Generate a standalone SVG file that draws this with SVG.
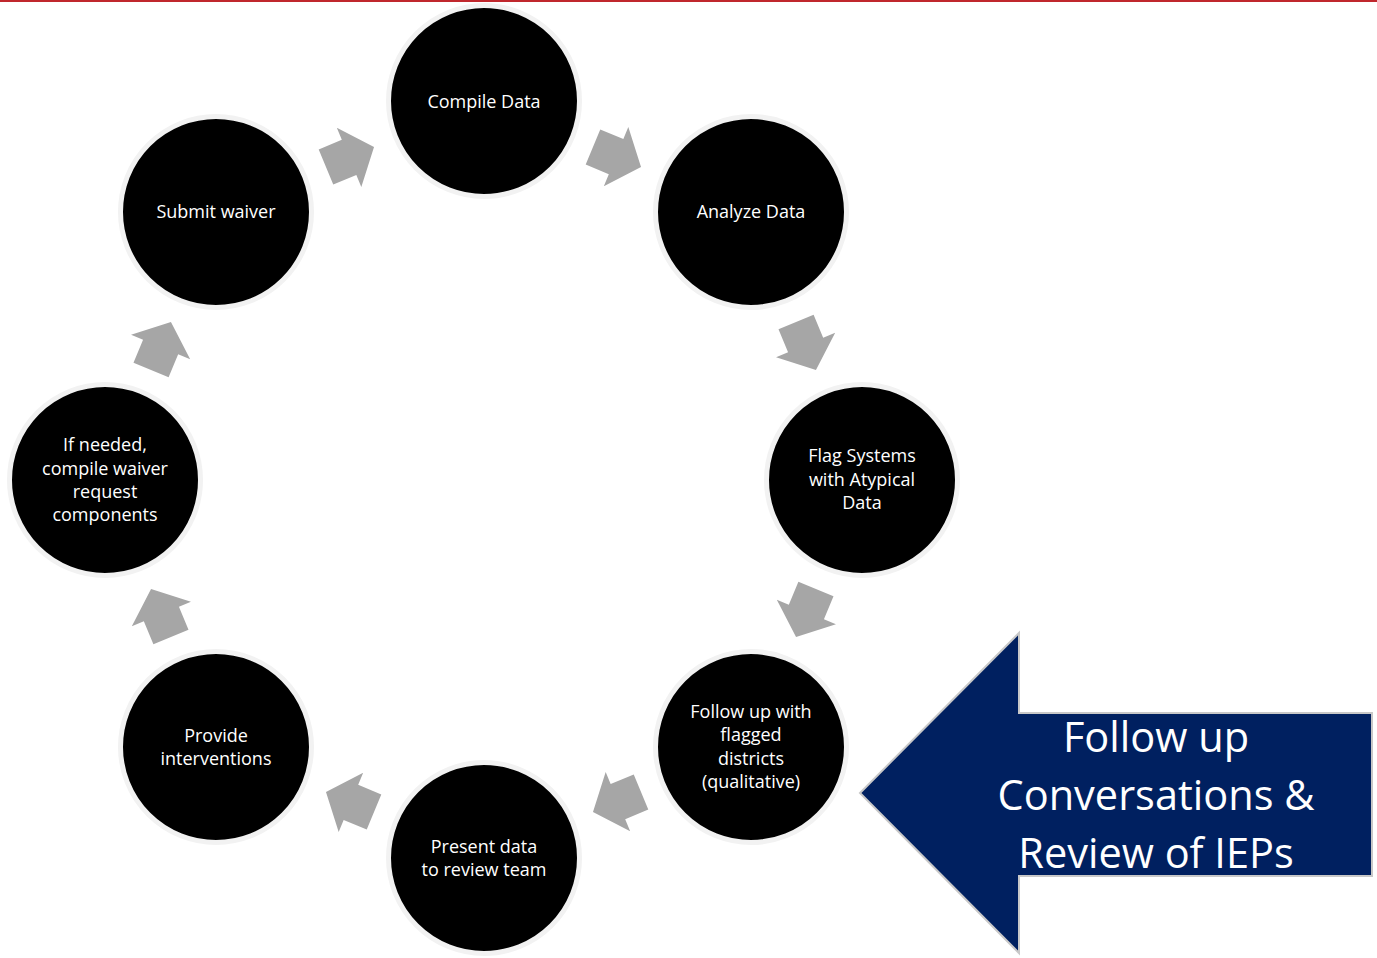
<svg xmlns="http://www.w3.org/2000/svg" width="1377" height="958" viewBox="0 0 1377 958">
<defs>
<style>
.node circle{fill:#000;stroke:#f2f2f2;stroke-width:5}
.node text{fill:#fff;font-family:"Open Sans","Liberation Sans",sans-serif;font-size:18px;text-anchor:middle}
.step{fill:#a6a6a6}
.callout text{fill:#fff;font-family:"Open Sans","Liberation Sans",sans-serif;font-size:41.5px;text-anchor:middle}
</style>
<path id="ga" d="M-26,-19 L-1,-19 L-1,-32 L26,0 L-1,32 L-1,19 L-26,19 Z"/>
</defs>
<rect x="0" y="0" width="1377" height="958" fill="#fff"/>
<rect x="0" y="0" width="1377" height="2" fill="#c0272d"/>
<g id="connectors">
<use href="#ga" class="step" transform="translate(617,157) rotate(22.5)"/>
<use href="#ga" class="step" transform="translate(806,346) rotate(67.5)"/>
<use href="#ga" class="step" transform="translate(806,613) rotate(112.5)"/>
<use href="#ga" class="step" transform="translate(617,802) rotate(157.5)"/>
<use href="#ga" class="step" transform="translate(350,802) rotate(202.5)"/>
<use href="#ga" class="step" transform="translate(161,613) rotate(247.5)"/>
<use href="#ga" class="step" transform="translate(161,346) rotate(292.5)"/>
<use href="#ga" class="step" transform="translate(350,157) rotate(337.5)"/>
</g>
<g id="n-compile" class="node"><circle cx="484" cy="101" r="95.5"/><text x="484" y="108">Compile Data</text></g>
<g id="n-analyze" class="node"><circle cx="751" cy="212" r="95.5"/><text x="751" y="218">Analyze Data</text></g>
<g id="n-flag" class="node"><circle cx="862" cy="480" r="95.5"/><text x="862" y="462">Flag Systems</text><text x="862" y="486">with Atypical</text><text x="862" y="509">Data</text></g>
<g id="n-follow" class="node"><circle cx="751" cy="747" r="95.5"/><text x="751" y="718">Follow up with</text><text x="751" y="741">flagged</text><text x="751" y="765">districts</text><text x="751" y="788">(qualitative)</text></g>
<g id="n-present" class="node"><circle cx="484" cy="858" r="95.5"/><text x="484" y="853">Present data</text><text x="484" y="876">to review team</text></g>
<g id="n-provide" class="node"><circle cx="216" cy="747" r="95.5"/><text x="216" y="742">Provide</text><text x="216" y="765">interventions</text></g>
<g id="n-ifneeded" class="node"><circle cx="105" cy="480" r="95.5"/><text x="105" y="451">If needed,</text><text x="105" y="475">compile waiver</text><text x="105" y="498">request</text><text x="105" y="521">components</text></g>
<g id="n-submit" class="node"><circle cx="216" cy="212" r="95.5"/><text x="216" y="218">Submit waiver</text></g>
<g id="callout" class="callout">
<path d="M860,793 L1019,633 L1019,713 L1372,713 L1372,876 L1019,876 L1019,953 Z" fill="#002060" stroke="#c8c8c8" stroke-width="2"/>
<text x="1156" y="752">Follow up</text>
<text x="1156" y="810">Conversations &amp;</text>
<text x="1156" y="868">Review of IEPs</text>
</g>
</svg>
